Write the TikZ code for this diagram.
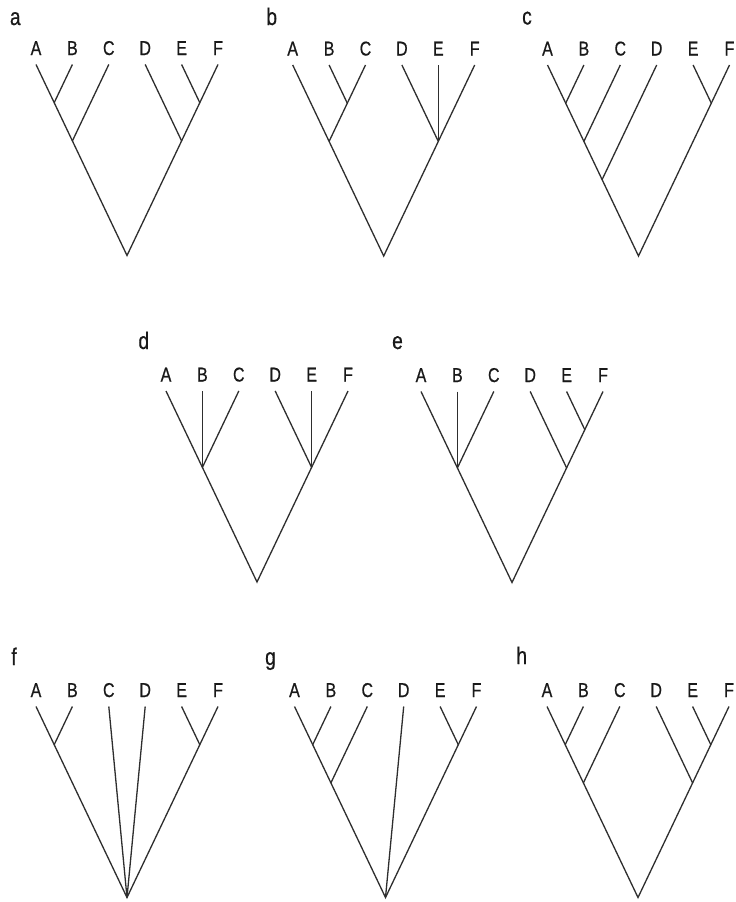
\documentclass[tikz,border=0pt]{standalone}
\usepackage{fontspec}
\setmainfont{Liberation Sans}
\newfontfamily\condfont[FakeStretch=0.8,FakeBold=0.6]{Liberation Sans}
\def\cladeGap{36.4}
\def\cladeK{2.099}
\newcommand{\treetips}[1]{%
  \foreach \L [count=\i from 0] in {A,B,C,D,E,F}{%
    \coordinate (#1\L) at ({\i*\cladeGap},0);
    \node[tiplab] (#1\L-lab) at ({\i*\cladeGap},-9.5) {\L};
  }}
\newcommand{\cladept}[3]{\coordinate (#1) at ({(#2+#3)/2*\cladeGap},{(#3-#2)/2*\cladeGap*\cladeK});}
\tikzset{
  branch/.style={draw=black!82, line width=1.3pt},
  tiplab/.style={font=\condfont\fontsize{20}{20}\selectfont, anchor=base, inner sep=0pt, text=black!90},
  panellab/.style={font=\condfont\fontsize{24}{24}\selectfont, anchor=base, inner sep=0pt, text=black!90}
}
\begin{document}
\begin{tikzpicture}[x=1pt,y=-1pt]
\useasboundingbox (0,0) rectangle (736,902);
\fill[white] (0,0) rectangle (736,902);
% panel labels
\node[panellab] (pa) at (15.3,25) {a};
\node[panellab] (pb) at (271.7,25) {b};
\node[panellab] (pc) at (527,24.5) {c};
\node[panellab] (pd) at (143.8,349) {d};
\node[panellab] (pe) at (397.5,349) {e};
\node[panellab] (pf) at (14,665) {f};
\node[panellab] (pg) at (270.5,665) {g};
\node[panellab] (ph) at (521.7,664) {h};
% tree a
\begin{scope}[shift={(36,64.5)}]
\treetips{a}
\cladept{aAB}{0}{1}\cladept{aABC}{0}{2}\cladept{aEF}{4}{5}\cladept{aDEF}{3}{5}\cladept{aR}{0}{5}
\draw[branch] (aA) -- (aAB) -- (aABC) -- (aR) -- (aDEF) -- (aEF) -- (aF);
\draw[branch] (aB) -- (aAB);
\draw[branch] (aC) -- (aABC);
\draw[branch] (aD) -- (aDEF);
\draw[branch] (aE) -- (aEF);
\end{scope}
% tree b
\begin{scope}[shift={(292.7,65)}]
\treetips{b}
\cladept{bBC}{1}{2}\cladept{bABC}{0}{2}\cladept{bDEF}{3}{5}\cladept{bR}{0}{5}
\draw[branch] (bA) -- (bABC) -- (bR) -- (bDEF) -- (bF);
\draw[branch] (bB) -- (bBC);
\draw[branch] (bC) -- (bBC) -- (bABC);
\draw[branch] (bD) -- (bDEF);
\draw[branch] (bE) -- (bDEF);
\end{scope}
% tree c
\begin{scope}[shift={(547.5,65)}]
\treetips{c}
\cladept{cAB}{0}{1}\cladept{cABC}{0}{2}\cladept{cABCD}{0}{3}\cladept{cEF}{4}{5}\cladept{cR}{0}{5}
\draw[branch] (cA) -- (cAB) -- (cABC) -- (cABCD) -- (cR) -- (cEF) -- (cF);
\draw[branch] (cB) -- (cAB);
\draw[branch] (cC) -- (cABC);
\draw[branch] (cD) -- (cABCD);
\draw[branch] (cE) -- (cEF);
\end{scope}
% tree d
\begin{scope}[shift={(166,391)}]
\treetips{d}
\cladept{dABC}{0}{2}\cladept{dDEF}{3}{5}\cladept{dR}{0}{5}
\draw[branch] (dA) -- (dABC) -- (dR) -- (dDEF) -- (dF);
\draw[branch] (dB) -- (dABC);
\draw[branch] (dC) -- (dABC);
\draw[branch] (dD) -- (dDEF);
\draw[branch] (dE) -- (dDEF);
\end{scope}
% tree e
\begin{scope}[shift={(421,391.5)}]
\treetips{e}
\cladept{eABC}{0}{2}\cladept{eEF}{4}{5}\cladept{eDEF}{3}{5}\cladept{eR}{0}{5}
\draw[branch] (eA) -- (eABC) -- (eR) -- (eDEF) -- (eEF) -- (eF);
\draw[branch] (eB) -- (eABC);
\draw[branch] (eC) -- (eABC);
\draw[branch] (eD) -- (eDEF);
\draw[branch] (eE) -- (eEF);
\end{scope}
% tree f
\begin{scope}[shift={(36,706.5)}]
\treetips{f}
\cladept{fAB}{0}{1}\cladept{fEF}{4}{5}\cladept{fR}{0}{5}
\draw[branch] (fA) -- (fAB) -- (fR) -- (fEF) -- (fF);
\draw[branch] (fB) -- (fAB);
\draw[branch] (fC) -- (fR);
\draw[branch] (fD) -- (fR);
\draw[branch] (fE) -- (fEF);
\end{scope}
% tree g
\begin{scope}[shift={(294.5,706.5)}]
\treetips{g}
\cladept{gAB}{0}{1}\cladept{gABC}{0}{2}\cladept{gEF}{4}{5}\cladept{gR}{0}{5}
\draw[branch] (gA) -- (gAB) -- (gABC) -- (gR) -- (gEF) -- (gF);
\draw[branch] (gB) -- (gAB);
\draw[branch] (gC) -- (gABC);
\draw[branch] (gD) -- (gR);
\draw[branch] (gE) -- (gEF);
\end{scope}
% tree h
\begin{scope}[shift={(547,706.5)}]
\treetips{h}
\cladept{hAB}{0}{1}\cladept{hABC}{0}{2}\cladept{hEF}{4}{5}\cladept{hDEF}{3}{5}\cladept{hR}{0}{5}
\draw[branch] (hA) -- (hAB) -- (hABC) -- (hR) -- (hDEF) -- (hEF) -- (hF);
\draw[branch] (hB) -- (hAB);
\draw[branch] (hC) -- (hABC);
\draw[branch] (hD) -- (hDEF);
\draw[branch] (hE) -- (hEF);
\end{scope}
\end{tikzpicture}
\end{document}
